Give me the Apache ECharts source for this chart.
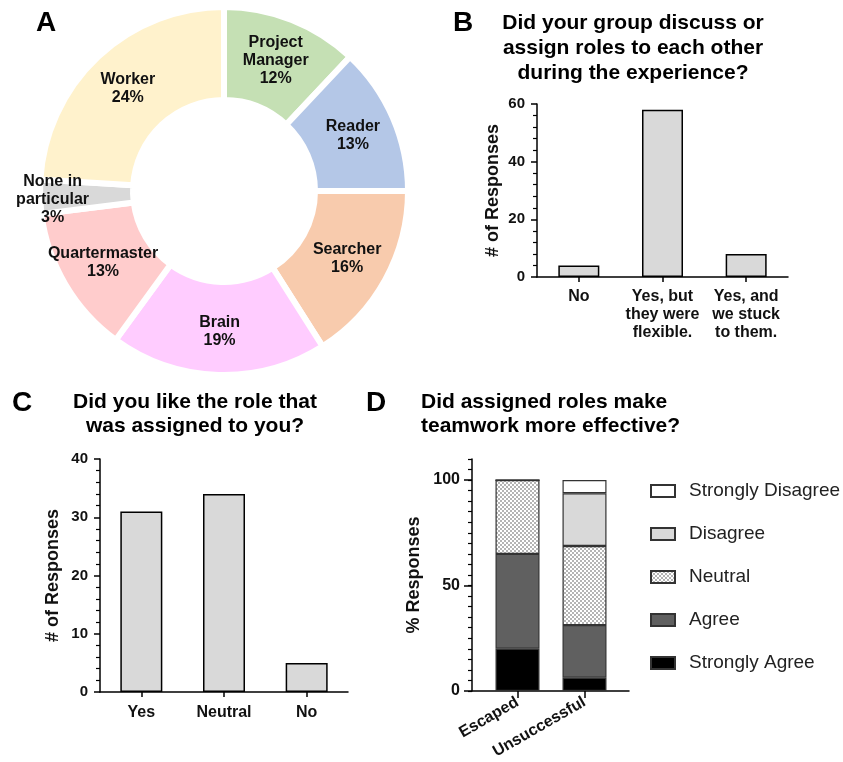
<!DOCTYPE html>
<html>
<head>
<meta charset="utf-8">
<script src="https://cdn.jsdelivr.net/npm/echarts@6/dist/echarts.min.js"></script>
<style>
html,body{margin:0;padding:0;background:#fff;}
#chart{width:843px;height:762px;}
</style>
</head>
<body>
<div id="chart"></div>
<script>
// ---------- DATA ----------
const pieNames = ['Project\nManager', 'Reader', 'Searcher', 'Brain', 'Quartermaster', 'None in\nparticular', 'Worker'];
const pieValues = [12, 13, 16, 19, 13, 3, 24];

const bCategories = ['No', 'Yes, but\nthey were\nflexible.', 'Yes, and\nwe stuck\nto them.'];
const bValues = [4, 58, 8];
const bTicks = [0, 20, 40, 60];

const cCategories = ['Yes', 'Neutral', 'No'];
const cValues = [31, 34, 5];
const cTicks = [0, 10, 20, 30, 40];

const dGroups = ['Escaped', 'Unsuccessful'];
const dStronglyAgree = [20, 6.25];
const dAgree = [45, 25];
const dNeutral = [35, 37.5];
const dDisagree = [0, 25];
const dStronglyDisagree = [0, 6.25];
const dTicks = [0, 50, 100];

// ---------- STYLE ----------
const FONT = "'Liberation Sans', Arial, sans-serif";
const pieColors = ['#c5e0b4', '#b4c7e7', '#f8cbad', '#ffccff', '#ffcccc', '#d9d9d9', '#fff2cc'];

const pc = document.createElement('canvas');
pc.width = 4; pc.height = 4;
const ctx = pc.getContext('2d');
ctx.fillStyle = '#ffffff'; ctx.fillRect(0, 0, 4, 4);
ctx.fillStyle = '#b4b4b4'; ctx.fillRect(0, 0, 2, 2); ctx.fillRect(2, 2, 2, 2);
const checker = { image: pc, repeat: 'repeat' };

const chart = echarts.init(document.getElementById('chart'), null, { renderer: 'canvas' });

const tickLabel = { color: '#111', fontFamily: FONT, fontWeight: 'bold', fontSize: 15 };
const axisName = { color: '#111', fontFamily: FONT, fontWeight: 'bold', fontSize: 18 };
const blackLine = { show: true, onZero: false, lineStyle: { color: '#000', width: 1.5 } };

function countYAxis(gridIndex, max, interval, nameGap) {
  return {
    type: 'value', gridIndex, min: 0, max, interval,
    name: '# of Responses', nameLocation: 'middle', nameGap, nameRotate: 90,
    nameTextStyle: axisName,
    axisLine: blackLine,
    axisTick: { show: true, length: 6, lineStyle: { color: '#000', width: 1.5 } },
    minorTick: { show: true, splitNumber: 5, length: 4, lineStyle: { color: '#000', width: 1.2 } },
    axisLabel: Object.assign({ margin: 12 }, tickLabel),
    splitLine: { show: false }
  };
}
function catXAxis(gridIndex, data, margin) {
  return {
    type: 'category', gridIndex, data, boundaryGap: true,
    axisLine: blackLine,
    axisTick: { show: true, alignWithLabel: true, length: 5, lineStyle: { color: '#000', width: 1.5 } },
    axisLabel: Object.assign({ margin, interval: 0, lineHeight: 18 }, tickLabel, { fontSize: 16 })
  };
}

const pieData = pieNames.map((n, i) => {
  const item = { name: n, value: pieValues[i], itemStyle: { color: pieColors[i] } };
  if (n.indexOf('None') === 0) item.label = { offset: [-31, 4] };
  return item;
});

function dSeries(name, arr, color) {
  return {
    type: 'bar', name, stack: 'd', xAxisIndex: 2, yAxisIndex: 2, barWidth: 44,
    data: arr,
    itemStyle: { color, borderColor: '#333', borderWidth: 1.2 }
  };
}

const gText = (text, x, y, size, align, lh) => ({
  type: 'text', x, y,
  style: { text, fill: '#000', font: 'bold ' + size + 'px ' + FONT, align, verticalAlign: 'middle', lineHeight: lh }
});

const option = {
  animation: false,
  backgroundColor: '#fff',
  graphic: [
    gText('A', 46, 23, 28, 'center', 30),
    gText('B', 463, 23, 28, 'center', 30),
    gText('C', 22, 403, 28, 'center', 30),
    gText('D', 376, 403, 28, 'center', 30),
    gText('Did your group discuss or\nassign roles to each other\nduring the experience?', 633, 48, 21, 'center', 25),
    gText('Did you like the role that\nwas assigned to you?', 195, 414, 21, 'center', 24),
    gText('Did assigned roles make\nteamwork more effective?', 421, 414, 21, 'left', 24)
  ],
  grid: [
    { left: 537, top: 104, width: 251, height: 173, containLabel: false, outerBoundsMode: 'none' },
    { left: 100, top: 459, width: 248, height: 233, containLabel: false, outerBoundsMode: 'none' },
    { left: 484, top: 459, width: 134, height: 232, containLabel: false, outerBoundsMode: 'none' },
    { left: 472, top: 459, width: 157, height: 232, containLabel: false, outerBoundsMode: 'none' }
  ],
  legend: {
    orient: 'vertical', left: 650, top: 480, padding: 0,
    data: ['Strongly Disagree', 'Disagree', 'Neutral', 'Agree', 'Strongly Agree'],
    itemWidth: 24, itemHeight: 12, itemGap: 21, selectedMode: false,
    icon: 'rect',
    textStyle: { fontFamily: FONT, fontSize: 19, color: '#222', lineHeight: 22, padding: [0, 0, 0, 9] }
  },
  xAxis: [
    catXAxis(0, bCategories, 11),
    catXAxis(1, cCategories, 12),
    {
      type: 'category', gridIndex: 2, data: dGroups, boundaryGap: true,
      axisLine: { show: false },
      axisTick: { show: true, alignWithLabel: true, length: 7, lineStyle: { color: '#000', width: 1.5 } },
      axisLabel: Object.assign({ interval: 0, rotate: 30, margin: 10 }, tickLabel, { fontSize: 16 })
    },
    {
      type: 'value', gridIndex: 3, min: 0, max: 1,
      axisLine: blackLine, axisTick: { show: false }, axisLabel: { show: false }, splitLine: { show: false }
    }
  ],
  yAxis: [
    countYAxis(0, bTicks[bTicks.length - 1], bTicks[1] - bTicks[0], 35),
    countYAxis(1, cTicks[cTicks.length - 1], cTicks[1] - cTicks[0], 38),
    {
      type: 'value', gridIndex: 2, position: 'left', offset: 12, min: 0, max: 110, interval: 5,
      name: '% Responses', nameLocation: 'middle', nameGap: 49, nameRotate: 90,
      nameTextStyle: axisName,
      axisLine: blackLine,
      axisTick: { show: true, length: 4, lineStyle: { color: '#000', width: 1.2 } },
      axisLabel: Object.assign({ margin: 12, formatter: v => (dTicks.indexOf(v) >= 0 ? String(v) : '') }, tickLabel, { fontSize: 16 }),
      splitLine: { show: false }
    },
    {
      type: 'value', gridIndex: 2, position: 'left', offset: 12, min: 0, max: 110, interval: 50,
      axisLine: { show: false },
      axisTick: { show: true, customValues: dTicks, length: 8, lineStyle: { color: '#000', width: 1.5 } },
      axisLabel: { show: false },
      splitLine: { show: false }
    },
    {
      type: 'value', gridIndex: 3, show: false, min: 0, max: 1
    }
  ],
  series: [
    {
      type: 'pie', center: [224, 191], radius: [91, 184], startAngle: 90, clockwise: true,
      avoidLabelOverlap: false,
      itemStyle: { borderColor: '#fff', borderWidth: 6 },
      label: {
        show: true, position: 'inside', formatter: '{b}\n{c}%',
        color: '#111', fontFamily: FONT, fontWeight: 'bold', fontSize: 16, lineHeight: 18
      },
      labelLine: { show: false },
      data: pieData
    },
    {
      type: 'bar', xAxisIndex: 0, yAxisIndex: 0, barWidth: 41, data: bValues,
      itemStyle: { color: '#d9d9d9', borderColor: '#000', borderWidth: 1.5 }
    },
    {
      type: 'bar', xAxisIndex: 1, yAxisIndex: 1, barWidth: 42, data: cValues,
      itemStyle: { color: '#d9d9d9', borderColor: '#000', borderWidth: 1.5 }
    },
    dSeries('Strongly Agree', dStronglyAgree, '#000000'),
    dSeries('Agree', dAgree, '#606060'),
    dSeries('Neutral', dNeutral, checker),
    dSeries('Disagree', dDisagree, '#d9d9d9'),
    dSeries('Strongly Disagree', dStronglyDisagree, '#ffffff')
  ]
};
chart.setOption(option);
</script>
</body>
</html>
